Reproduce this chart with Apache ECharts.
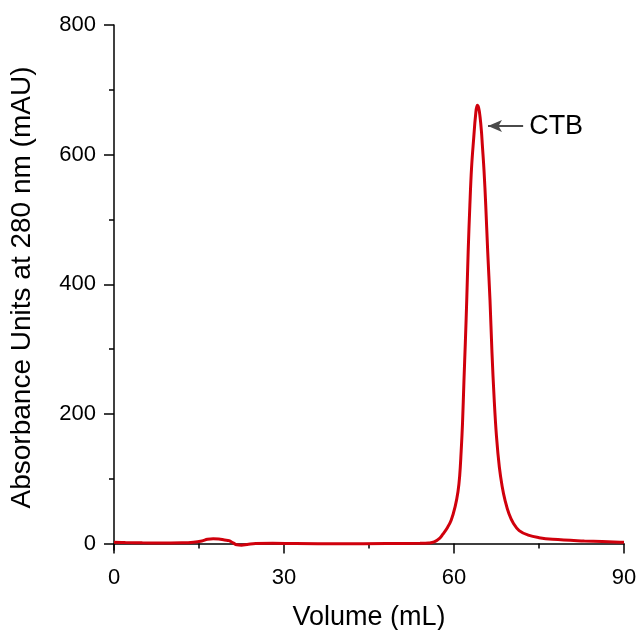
<!DOCTYPE html>
<html>
<head>
<meta charset="utf-8">
<script src="https://cdn.jsdelivr.net/npm/echarts@6/dist/echarts.min.js"></script>
<style>
	html, body { margin: 0; padding: 0; background: #fff; }
	#chart { width: 638px; height: 630px; }
</style>
</head>
<body>
<div id="chart"></div>
<script>
	// chromatogram trace (volume mL, absorbance mAU)
	var volume = [0, 2, 5, 8, 10, 12, 14, 15.5, 16.5, 17.5, 18.5, 19.5, 20.3, 21, 21.7, 22.5, 23.5, 25, 28, 32, 40, 48, 54, 55.5, 56.5,
		57.5, 58.0, 58.8, 59.5, 60.2, 60.7, 61.0, 61.25, 61.5, 61.76, 62.0, 62.25, 62.5, 62.8, 63.1, 63.5, 63.8, 64.1, 64.35, 64.6, 64.85, 65.0, 65.3, 65.6, 65.95, 66.35, 66.7, 67.1, 67.5, 68.0, 68.5, 69.0, 69.7, 70.5, 71.5, 73.1, 75, 77.4, 83, 89.3, 90];
	var absorbance = [2, 1.5, 1, 0.8, 0.8, 1, 2, 4, 6.5, 7.5, 7, 5.5, 4.5, 1, -2, -2.5, -1.5, 0, 0.3, 0, -0.3, 0, 0.3, 0.8, 2.5,
		8.5, 14, 24, 36, 57, 80, 104, 140, 185, 252, 310, 376, 450, 522, 580, 628, 660, 676, 672, 658, 635, 615, 575, 522, 450, 376, 295, 221, 165, 118, 88, 67, 46, 31, 20, 13, 9, 6.5, 4, 2, 1.8];
	var yMajor = [0, 200, 400, 600, 800];
	var yMinor = [100, 300, 500, 700];
	var peakName = 'CTB';
	var peakArrow = [[72.2, 644], [66.0, 644]];

	var chart = echarts.init(document.getElementById('chart'));
	var font = 'Liberation Sans, Arial, sans-serif';
	var seriesData = volume.map(function (v, i) { return [v, absorbance[i]]; });

	var option = {
		animation: false,
		grid: { left: 114, right: 14, top: 25, bottom: 80, outerBoundsMode: 'none' },
		xAxis: {
			type: 'value',
			min: 0,
			max: 90,
			interval: 30,
			name: 'Volume (mL)',
			nameLocation: 'middle',
			nameGap: 54,
			nameTextStyle: { fontFamily: font, fontSize: 27, color: '#000' },
			axisLine: { lineStyle: { color: '#000', width: 1.5 } },
			axisTick: { length: 10, lineStyle: { color: '#000', width: 1.5 } },
			minorTick: { show: true, splitNumber: 2, length: 5, lineStyle: { color: '#000', width: 1.5 } },
			axisLabel: { fontFamily: font, fontSize: 22, color: '#000', margin: 17 },
			splitLine: { show: false }
		},
		yAxis: [{
			type: 'value',
			min: -10,
			max: 800,
			name: 'Absorbance Units at 280 nm (mAU)',
			nameLocation: 'middle',
			nameGap: 78,
			nameTextStyle: { fontFamily: font, fontSize: 28, color: '#000' },
			axisLine: { show: true, lineStyle: { color: '#000', width: 1.5 } },
			axisTick: { show: true, length: 10, customValues: yMajor, lineStyle: { color: '#000', width: 1.5 } },
			axisLabel: { fontFamily: font, fontSize: 22, color: '#000', margin: 18, customValues: yMajor },
			splitLine: { show: false }
		}, {
			type: 'value',
			position: 'left',
			min: -10,
			max: 800,
			axisLine: { show: false },
			axisTick: { show: true, length: 5, customValues: yMinor, lineStyle: { color: '#000', width: 1.5 } },
			axisLabel: { show: false },
			splitLine: { show: false }
		}],
		series: [{
			type: 'line',
			data: seriesData,
			smooth: 0.4,
			symbol: 'none',
			lineStyle: { color: '#d0000c', width: 3 },
			markLine: {
				silent: true,
				symbol: ['none', 'arrow'],
				symbolSize: [9, 14],
				lineStyle: { color: '#4a4a4a', width: 2, type: 'solid' },
				label: {
					show: true,
					position: 'start',
					formatter: peakName,
					fontFamily: font,
					fontSize: 27,
					color: '#000',
					distance: 6
				},
				data: [[{ coord: peakArrow[0] }, { coord: peakArrow[1] }]]
			}
		}]
	};
	chart.setOption(option);
</script>
</body>
</html>
